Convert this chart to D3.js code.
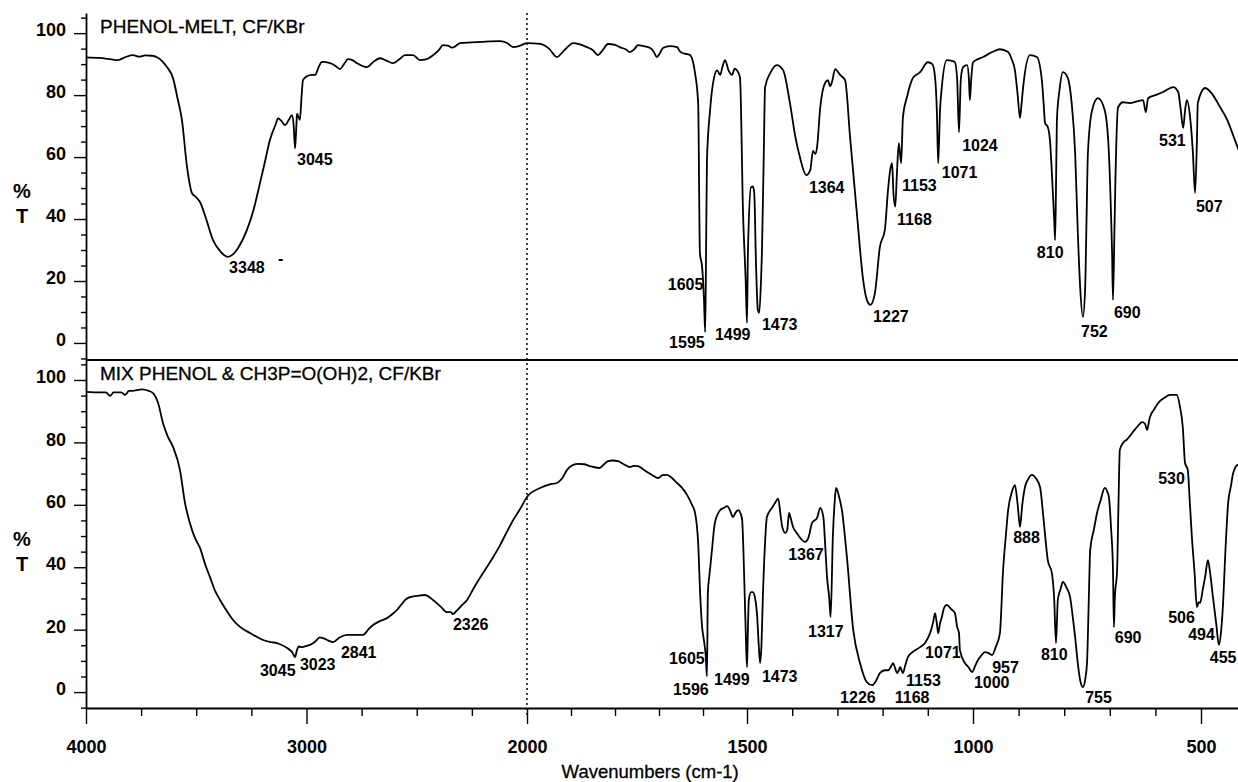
<!DOCTYPE html>
<html>
<head>
<meta charset="utf-8">
<script src="https://cdn.jsdelivr.net/npm/d3@7"></script>
<style>
    body { margin: 0; background: #ffffff; }
    svg { display: block; }
    .tick text { font-family: "Liberation Sans", Arial, sans-serif; font-weight: bold; font-size: 18px; fill: #000; }
</style>
</head>
<body>
<svg id="chart" width="1238" height="782"></svg>
<script>
// ---- data: [wavenumber cm-1, %T] ----
const phenolMelt = [
    [4000,92.2],[3940,92],[3890,91.6],[3855,91.3],[3820,92.3],[3787,92.9],[3760,92.4],[3732,92.8],[3700,92.7],[3678,92.2],
    [3655,91],[3633,89.1],[3605,85.4],[3585,79],[3565,72],[3542,56.9],[3519,48.3],[3500,47],[3483,45.5],[3455,40],
    [3424,33.2],[3390,29.5],[3356,27.8],[3335,28.5],[3311,30.6],[3270,36.5],[3240,43],[3211,51.6],[3190,58],[3166,65.5],
    [3140,70.5],[3129,72.5],[3112,71.5],[3098,70.3],[3080,72],[3066,73.5],[3058,70],[3052,62.8],[3046,70],[3043,74],
    [3030,72],[3022,80],[3016,84.8],[3000,86],[2975,86.5],[2961,86.5],[2945,89],[2930,90.7],[2893,90.3],[2870,89.5],
    [2848,88.4],[2830,90],[2812,91.6],[2790,91.2],[2771,90.3],[2726,89],[2700,90.5],[2667,91.9],[2640,91.2],[2608,90.3],
    [2580,91.5],[2553,92.9],[2517,92.9],[2485,91.3],[2460,91.5],[2426,92.9],[2400,94.5],[2381,96.1],[2360,96],[2340,95.3],
    [2320,96],[2304,96.8],[2250,97],[2200,97.2],[2122,97.4],[2090,96.8],[2063,95.5],[2030,96],[2000,96.8],
    [1970,96.5],[1950,95],[1932,92.3],[1915,94.5],[1895,96.8],[1880,96.4],[1864,95.5],[1850,94.5],[1839,92.9],[1828,94.5],
    [1816,96.5],[1800,96.2],[1789,95.5],[1775,94.7],[1766,93.9],[1755,95],[1748,96.1],[1735,95.8],[1720,95.2],[1712,94],
    [1705,92.3],[1698,93.5],[1691,95.2],[1675,95.8],[1659,95.5],[1652,94],[1645,93.5],[1630,93],[1618,87],[1611,77.4],
    [1607,29],[1602,24.5],[1598,15],[1595,3.5],[1593,30],[1591,59],[1584,75],[1577,84],[1568,88],[1561,86.5],
    [1556,89],[1550,91.3],[1542,88],[1534,86.5],[1528,88.5],[1523,88],[1516,85.8],[1509,41.9],[1503,20],[1500,6.5],
    [1498,29],[1491,50.3],[1487,50.5],[1484,48.4],[1480,25],[1476,10.6],[1473,9.7],[1469,20],[1467,29],[1463,60],
    [1460,82.6],[1449,87],[1434,89.7],[1420,88],[1405,77.4],[1393,66.5],[1383,60],[1369,54.2],[1360,55.8],[1354,62],
    [1349,61],[1345,63.2],[1338,76],[1327,84],[1321,84.8],[1316,82.8],[1312,84.2],[1305,88.4],[1294,86.5],[1283,84.8],
    [1272,66.5],[1257,42],[1243,20.3],[1235,14],[1227,12.3],[1217,16.1],[1206,31],[1195,36.5],[1188,49.4],[1183,56],
    [1179,58],[1176,48.4],[1172,44],[1168,55.8],[1164,64.5],[1159,58],[1155,73],[1146,79.4],[1133,85.5],[1117,87.4],
    [1100,90.6],[1090,90],[1084,85.8],[1080,75],[1077,58],[1073,75],[1069,82.6],[1058,91.3],[1045,91],[1040,90.6],
    [1035,85],[1031,68],[1027,85],[1022,89],[1013,89.7],[1009,85],[1007,78.4],[1004,85],[1000,90.6],[989,91.6],
    [978,92.3],[958,93.9],[941,94.8],[923,93.9],[915,91.5],[908,88],[902,80],[897,72.6],[893,78],[890,82.6],
    [875,92.9],[860,92.3],[849,84.8],[845,77],[842,71],[836,69.7],[831,65],[827,54.8],[822,40],[820,33.2],
    [818,50],[816,72],[810,82],[803,87.4],[792,85.5],[784,78],[776,61.3],[770,35],[765,18],[759,8.4],
    [754,18],[751,40],[748,61.3],[739,75],[726,79],[711,75],[702,61.3],[697,40],[695,29],[693,13.9],
    [690,35],[688,50.3],[682,76],[671,77.7],[656,77.4],[640,78],[627,78.4],[621,74.5],[616,79],[600,80],
    [583,81],[561,82.6],[550,81],[545,76],[539,69.4],[535,75],[531,78.4],[524,73],[518,62],[513,48.4],
    [509,65],[507,77.4],[491,82.3],[474,80],[460,76.5],[443,72],[430,67],[420,63],[410,59]
];

const phenolMix = [
    [4000,96.2],[3937,96],[3910,96],[3891,94.9],[3875,96],[3859,96],[3840,96],[3823,95.2],[3805,96.5],[3791,96.5],
    [3746,97],[3715,96.5],[3696,95.8],[3673,92.6],[3651,86.2],[3630,82],[3605,78.5],[3574,71.2],[3551,60.6],[3519,51.9],
    [3500,48.5],[3483,46.2],[3460,41],[3438,36.9],[3415,32.5],[3392,29.5],[3360,25.8],[3333,23.1],[3300,20.8],[3256,18.9],
    [3220,17.5],[3197,16.7],[3160,16],[3134,15.7],[3110,15],[3088,14.1],[3065,12.8],[3052,11.2],[3045,13],[3035,14.6],
    [3020,14.4],[3000,14.8],[2984,15.1],[2960,16.2],[2940,17.5],[2925,17.3],[2900,16.5],[2880,16],[2850,17.5],[2816,18.3],
    [2780,18.3],[2744,18.3],[2720,20],[2698,21.5],[2665,22.8],[2635,23.7],[2610,25],[2590,26.3],[2570,28],[2553,29.5],
    [2531,30.4],[2499,30.8],[2463,31.1],[2426,29.5],[2390,27.3],[2363,25.6],[2345,25.6],[2336,25],[2320,26],[2300,27.5],
    [2272,29.5],[2240,33.5],[2200,38.1],[2160,42.5],[2122,47.1],[2090,51.5],[2063,55.1],[2030,58.8],[2000,62.5],
    [1970,65.4],[1950,66.5],[1932,67],[1920,68.5],[1909,71.2],[1895,72.8],[1884,73.1],[1870,73],[1857,72.4],[1836,71.8],
    [1825,73],[1816,74],[1805,74.2],[1793,74],[1780,73],[1766,72.1],[1757,72.5],[1748,72.4],[1737,71.5],[1727,70.5],
    [1715,69.5],[1702,68.6],[1692,69.5],[1682,69.6],[1670,68.5],[1659,67],[1648,65.5],[1636,63.1],[1625,60],[1618,57.4],
    [1611,47.8],[1606,30],[1602,20.8],[1598,16.7],[1594,12],[1591,5],[1589,31.7],[1585,38],[1580,45],[1573,54.2],
    [1561,58.3],[1553,59],[1545,59.6],[1538,58],[1532,56.1],[1526,57.5],[1520,58.3],[1514,57],[1511,55.1],[1506,35],
    [1502,15],[1500,8],[1498,20],[1496,29.5],[1491,32],[1487,32],[1482,30],[1478,25.3],[1474,15],[1471,9.3],
    [1468,15],[1465,30],[1460,48],[1456,56.1],[1445,59],[1438,60.6],[1431,62],[1426,57],[1422,52.9],[1415,51],
    [1411,51.9],[1407,57.4],[1403,55.5],[1398,52.9],[1390,51],[1380,49],[1372,48.1],[1364,49.5],[1356,54.2],[1345,55.8],
    [1338,59],[1331,56],[1327,47],[1323,37],[1318,30],[1315,24],[1310,50],[1306,61],[1303,65.4],[1297,63],
    [1290,58.3],[1279,43.3],[1265,19.9],[1250,9.3],[1235,3.2],[1223,2.2],[1215,3.5],[1206,6.1],[1195,7],[1188,7],
    [1182,8],[1177,9.3],[1172,7.5],[1168,6.1],[1164,7],[1161,8],[1158,7],[1155,6.1],[1150,8.5],[1144,11.2],
    [1130,13.2],[1117,14.4],[1105,16],[1095,18.9],[1088,22.5],[1084,25.3],[1080,22],[1077,18.9],[1073,22],[1069,24],
    [1064,27],[1058,27.9],[1048,26.5],[1040,25.3],[1035,20.8],[1031,18.9],[1029,13.5],[1018,9.3],[1010,8],[1002,6.4],
    [995,8.5],[989,10.3],[980,12],[974,12.8],[966,12.5],[958,11.9],[950,14.5],[941,18.9],[934,39.1],[928,50],
    [923,58.3],[915,64],[908,66.3],[902,60],[897,52.9],[892,60],[886,65.7],[878,68.5],[871,69.6],[862,68.5],
    [853,65.7],[845,55],[836,42.3],[827,38.1],[822,30],[818,15.7],[814,29.5],[808,33],[803,35.3],[795,33.5],
    [787,30.4],[782,25],[776,17.6],[770,9],[765,3.8],[759,1.6],[754,4],[750,9.3],[746,30],[743,45.5],
    [735,52],[728,57.4],[720,61.5],[711,65.4],[705,64],[702,62.5],[697,52],[693,39.1],[691,20.8],[689,30],
    [684,39.1],[681,60],[678,77.6],[671,79.8],[662,81],[651,83],[640,85],[629,86.5],[623,86],[618,84],
    [615,86],[612,88.1],[603,90.5],[594,92.6],[580,94.3],[568,95.2],[553,95.2],[546,91.3],[540,85],[535,73.4],
    [529,71.2],[525,62],[520,49.7],[514,38],[509,27.2],[505,28.8],[502,28.5],[496,33],[491,36.9],[485,42.3],
    [480,38],[474,30.4],[467,22],[461,15.1],[456,20],[452,28.5],[447,45],[441,60.6],[435,66],[430,70.2],
    [420,72.8],[410,73]
];

// peak labels: [text, wavenumber at text start, %T at baseline]
const phenolMeltLabels = [
    ['3348', 3351, 22.6], ['-', 3129, 25.5], ['3045', 3043, 57.4],
    ['1605', 1680, 17.1], ['1595', 1677, -1.6], ['1499', 1573, 1.0], ['1473', 1467, 4.2],
    ['1364', 1363, 48.4], ['1227', 1221, 6.8], ['1168', 1168, 38.1], ['1153', 1157, 49.0],
    ['1071', 1069, 53.2], ['1024', 1024, 61.9], ['810', 860, 27.4], ['752', 763, 1.9],
    ['690', 691, 8.1], ['531', 592, 63.5], ['507', 511, 42.3]
];

const phenolMixLabels = [
    ['3045', 3211, 5.1], ['3023', 3030, 7.1], ['2841', 2844, 10.9], ['2326', 2336, 19.9],
    ['1605', 1677, 9.0], ['1596', 1668, -1.0], ['1499', 1575, 2.2], ['1473', 1467, 3.2],
    ['1367', 1409, 42.3], ['1317', 1365, 17.6], ['1226', 1294, -3.5], ['1168', 1173, -3.5],
    ['1153', 1148, 1.9], ['1071', 1106, 10.9], ['1000', 998, 1.3], ['957', 958, 6.1],
    ['888', 912, 47.8], ['810', 851, 10.3], ['755', 754, -3.5], ['690', 689, 15.7],
    ['530', 594, 66.7], ['506', 572, 22.1], ['494', 528, 16.7], ['455', 481, 9.3]
];

const panelTitles = ['PHENOL-MELT, CF/KBr', 'MIX PHENOL & CH3P=O(OH)2, CF/KBr'];
const yMajorTicks = [0, 20, 40, 60, 80, 100];
const xMajorTicks = [4000, 3000, 2000, 1500, 1000, 500];
const xMinorTicks = [3750, 3500, 3250, 2750, 2500, 2250,
    1900, 1800, 1700, 1600, 1400, 1300, 1200, 1100, 900, 800, 700, 600, 400];

const FONT = '"Liberation Sans", Arial, sans-serif';

const svg = d3.select('#chart');

// the chart changes scale at 2000 cm-1
const x = d3.scaleLinear()
    .domain([4000, 2000, 1500, 1000, 500, 400])
    .range([86, 527, 747, 973, 1201, 1247]);

const panels = [
    { data: phenolMelt, labels: phenolMeltLabels, title: panelTitles[0],
      y: d3.scaleLinear().domain([-5.5, 106.5]).range([360, 13]) },
    { data: phenolMix, labels: phenolMixLabels, title: panelTitles[1],
      y: d3.scaleLinear().domain([-5.1, 106.4]).range([708, 360]) }
];

// data runs from high to low wavenumber, so pixel x increases
const line = (y) => d3.line()
    .x(d => x(d[0]))
    .y(d => y(d[1]))
    .curve(d3.curveMonotoneX);

/**
 * Draw one spectrum panel
 */
function drawPanel(p) {
    const g = svg.append('g');
    const yMinor = d3.range(-5, 106, 5).filter(v => v % 20 !== 0);

    // minor y ticks
    g.append('g')
        .attr('transform', `translate(${x(4000)},0)`)
        .call(d3.axisLeft(p.y).tickValues(yMinor).tickSize(5).tickSizeOuter(0).tickFormat(''))
        .call(a => a.select('.domain').remove())
        .call(a => a.selectAll('line').attr('stroke-width', 1.4));

    // major y ticks + axis line
    g.append('g')
        .attr('transform', `translate(${x(4000)},0)`)
        .call(d3.axisLeft(p.y).tickValues(yMajorTicks).tickSize(12).tickSizeOuter(0).tickPadding(8))
        .call(a => a.select('.domain').attr('stroke-width', 1.8))
        .call(a => a.selectAll('line').attr('stroke-width', 1.4))
        .call(a => a.selectAll('text').attr('dy', '0.15em'));

    // %T label
    const yMid = p.y(50);
    g.append('text')
        .attr('x', 22).attr('y', yMid + 10)
        .attr('text-anchor', 'middle')
        .attr('font-family', FONT).attr('font-weight', 'bold').attr('font-size', 20)
        .text('%');
    g.append('text')
        .attr('x', 22).attr('y', yMid + 35)
        .attr('text-anchor', 'middle')
        .attr('font-family', FONT).attr('font-weight', 'bold').attr('font-size', 20)
        .text('T');

    // title
    g.append('text')
        .attr('x', x(4000) + 14)
        .attr('y', p.y(106.5) + 20)
        .attr('font-family', FONT).attr('font-size', 19)
        .attr('stroke', '#000').attr('stroke-width', 0.3)
        .text(p.title);

    // spectrum
    g.append('path')
        .datum(p.data)
        .attr('fill', 'none')
        .attr('stroke', '#000')
        .attr('stroke-width', 1.8)
        .attr('stroke-linejoin', 'round')
        .attr('d', line(p.y));

    // peak labels
    g.selectAll('.peak')
        .data(p.labels)
        .enter().append('text')
        .attr('class', 'peak')
        .attr('x', d => x(d[1]))
        .attr('y', d => p.y(d[2]))
        .attr('font-family', FONT).attr('font-weight', 'bold').attr('font-size', 16)
        .text(d => d[0]);
}

panels.forEach(drawPanel);

// line between the two panels
svg.append('line')
    .attr('x1', x(4000)).attr('x2', x(400))
    .attr('y1', panels[1].y.range()[1]).attr('y2', panels[1].y.range()[1])
    .attr('stroke', '#000').attr('stroke-width', 2.2);

// bottom x axis: minor then major ticks
const yAxisPos = panels[1].y.range()[0];
svg.append('g')
    .attr('transform', `translate(0,${yAxisPos})`)
    .call(d3.axisBottom(x).tickValues(xMinorTicks).tickSize(8).tickSizeOuter(0).tickFormat(''))
    .call(a => a.select('.domain').remove())
    .call(a => a.selectAll('line').attr('stroke-width', 1.4));

svg.append('g')
    .attr('transform', `translate(0,${yAxisPos})`)
    .call(d3.axisBottom(x).tickValues(xMajorTicks).tickSize(16).tickSizeOuter(0).tickPadding(16).tickFormat(d3.format('d')))
    .call(a => a.select('.domain').attr('stroke-width', 2.2))
    .call(a => a.selectAll('line').attr('stroke-width', 1.4));

svg.append('text')
    .attr('x', x(1720)).attr('y', 778)
    .attr('text-anchor', 'middle')
    .attr('font-family', FONT).attr('font-size', 18.5)
    .attr('stroke', '#000').attr('stroke-width', 0.3)
    .text('Wavenumbers (cm-1)');

// dotted scale break at 2000 cm-1
svg.append('line')
    .attr('x1', x(2000)).attr('x2', x(2000))
    .attr('y1', 13).attr('y2', yAxisPos + 8)
    .attr('stroke', '#000')
    .attr('stroke-width', 1.5)
    .attr('stroke-dasharray', '2,3');
</script>
</body>
</html>
